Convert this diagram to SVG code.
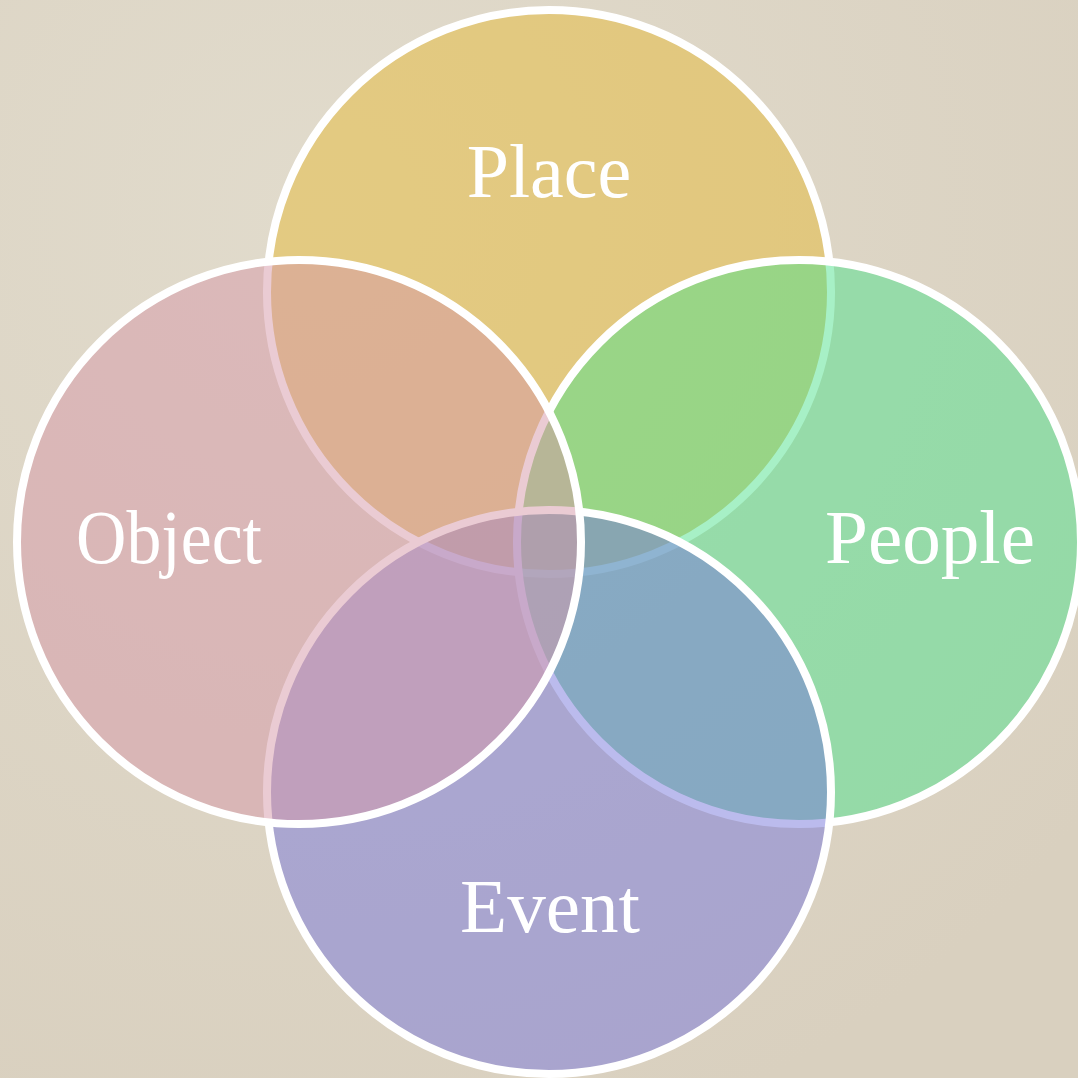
<svg xmlns="http://www.w3.org/2000/svg" width="1078" height="1078" viewBox="0 0 1078 1078">
<defs>
<radialGradient id="bg" cx="0.3" cy="0.2" r="0.9">
<stop offset="0" stop-color="#e1dbcc"/>
<stop offset="1" stop-color="#d9d0bf"/>
</radialGradient>
</defs>
<style>
.c{stroke:#ffffff;stroke-width:8;fill-opacity:0.5}
.t{font-family:"Liberation Serif","DejaVu Serif",serif;font-size:76px;fill:#ffffff;text-anchor:middle}
</style>
<rect width="1078" height="1078" fill="url(#bg)"/>
<g id="place"><circle class="c" cx="549" cy="292" r="282" fill="#e6b938"/><text class="t" x="549" y="197">Place</text></g>
<g id="people"><circle class="c" cx="799" cy="542" r="282" fill="#4fe18e"/><text class="t" x="930" y="563" textLength="210" lengthAdjust="spacingAndGlyphs">People</text></g>
<g id="event"><circle class="c" cx="549" cy="792" r="282" fill="#7777db"/><text class="t" x="550" y="932" textLength="180" lengthAdjust="spacingAndGlyphs">Event</text></g>
<g id="object"><circle class="c" cx="299" cy="542" r="282" fill="#d597a7"/><text class="t" x="169" y="563" textLength="186" lengthAdjust="spacingAndGlyphs">Object</text></g>
<g id="connectors"></g>
</svg>
